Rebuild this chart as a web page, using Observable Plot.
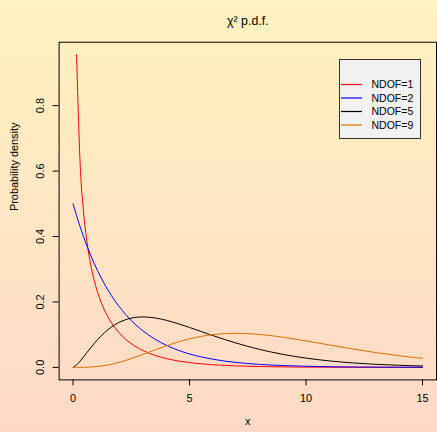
<!DOCTYPE html>
<html>
<head>
<meta charset="utf-8">
<script src="https://cdn.jsdelivr.net/npm/d3@7"></script>
<script src="https://cdn.jsdelivr.net/npm/@observablehq/plot@0.6"></script>
<style>
  html, body { margin: 0; padding: 0; overflow: hidden; }
  #wrap {
    position: relative; width: 437px; height: 432px; overflow: hidden;
    background: linear-gradient(to bottom, #fff3bf 0%, #ffd9c8 100%);
    font-family: "Liberation Sans", Arial, Helvetica, sans-serif;
  }
  #wrap svg.plot { position: absolute; left: 0; top: 0; background: transparent; }
  #legend { position: absolute; left: 0; top: 0; }
</style>
</head>
<body>
<div id="wrap"></div>
<script>
// ---- data ----
const title = "χ² p.d.f.";
const xLabel = "x";
const yLabel = "Probability density";
const xTicks = [0, 5, 10, 15];
const yTicks = [0, 0.2, 0.4, 0.6, 0.8];

const xs = [0, 0.15, 0.3, 0.45, 0.6, 0.75, 0.9, 1.05, 1.2, 1.5, 1.8, 2.1, 2.4, 2.7, 3, 3.5, 4, 4.5, 5, 5.5, 6, 6.5, 7, 7.5, 8, 8.5, 9, 10, 11, 12, 13, 14, 15];

const ndof1 = [null, 0.9556, 0.6269, 0.4749, 0.3815, 0.3166, 0.2681, 0.2303, 0.1999, 0.1539, 0.1209, 0.0963, 0.0776, 0.0629, 0.0514, 0.0371, 0.0270, 0.0198, 0.0146, 0.0109, 0.0081, 0.0061, 0.0046, 0.0034, 0.0026, 0.0020, 0.0015, 0.00085, 0.00049, 0.00029, 0.00017, 0.000097, 0.000057];
const ndof2 = [0.5, 0.4639, 0.4304, 0.3993, 0.3704, 0.3436, 0.3188, 0.2958, 0.2744, 0.2362, 0.2033, 0.1750, 0.1506, 0.1296, 0.1116, 0.0869, 0.0677, 0.0527, 0.0410, 0.0320, 0.0249, 0.0194, 0.0151, 0.0118, 0.0092, 0.0071, 0.0056, 0.0034, 0.0020, 0.0012, 0.0008, 0.0005, 0.0003];
const ndof5 = [0, 0.00717, 0.01881, 0.03206, 0.04579, 0.05936, 0.07240, 0.08464, 0.09594, 0.11540, 0.13057, 0.14161, 0.14892, 0.15295, 0.15418, 0.15131, 0.14398, 0.13380, 0.12204, 0.10965, 0.09730, 0.08545, 0.07437, 0.06424, 0.05511, 0.04701, 0.03989, 0.02833, 0.01983, 0.01370, 0.00937, 0.00635, 0.00427];
const ndof9 = [0, 0.0000046, 0.0000484, 0.000185, 0.000471, 0.000954, 0.001676, 0.002666, 0.003947, 0.007419, 0.012087, 0.017844, 0.024508, 0.031857, 0.039647, 0.052958, 0.065820, 0.077412, 0.087173, 0.094773, 0.10008, 0.10315, 0.10412, 0.10324, 0.10078, 0.09704, 0.09231, 0.08096, 0.06855, 0.05638, 0.04525, 0.03557, 0.02747];

const seriesNames = ["NDOF=1", "NDOF=2", "NDOF=5", "NDOF=9"];
const seriesColors = ["#ff0000", "#0000ff", "#000000", "#dc7000"];
const seriesValues = [ndof1, ndof2, ndof5, ndof9];

// tidy table
const rows = [];
seriesValues.forEach((vals, i) => {
  vals.forEach((v, j) => rows.push({x: xs[j], y: v, s: seriesNames[i]}));
});

const W = 440, H = 432;
const chart = Plot.plot({
  width: W, height: H,
  marginLeft: 59, marginRight: 1, marginTop: 42, marginBottom: 50,
  style: {fontFamily: '"Liberation Sans", Arial, Helvetica, sans-serif', fontSize: "11px", background: "transparent", color: "black"},
  x: {domain: [-0.6, 15.6]},
  y: {domain: [-0.0382, 0.9938]},
  color: {domain: seriesNames, range: seriesColors},
  marks: [
    Plot.frame({stroke: "black"}),
    Plot.line(rows, {x: "x", y: "y", z: "s", stroke: "s", strokeWidth: 1, curve: "monotone-x"}),
    Plot.axisX({ticks: xTicks, tickSize: 6, tickPadding: 8, label: null, fontSize: 11, tickFormat: d3.format("d")}),
    Plot.axisY({ticks: yTicks, tickSize: 6, tickPadding: 9, tickRotate: -90, label: null, fontSize: 11, tickFormat: d3.format(".1f")}),
    Plot.text([title], {frameAnchor: "top", dy: -26, fontSize: 12.5, text: d => d}),
    Plot.text([xLabel], {frameAnchor: "bottom", dy: 45, fontSize: 11, text: d => d}),
    Plot.text([yLabel], {frameAnchor: "left", dx: -45, rotate: -90, fontSize: 11, text: d => d})
  ]
});
chart.classList.add("plot");
document.getElementById("wrap").appendChild(chart);

// legend (R-style box)
const lg = d3.select("#wrap").append("svg").attr("id", "legend").attr("width", 437).attr("height", 432);
const box = {x: 339.5, y: 59.5, w: 81, h: 79};
lg.append("rect").attr("x", box.x).attr("y", box.y).attr("width", box.w).attr("height", box.h)
  .attr("fill", "#f2f2f2").attr("stroke", "#333").attr("stroke-width", 1);
seriesNames.forEach((name, i) => {
  const cy = 84.5 + i * 13.5;
  lg.append("line").attr("x1", 341).attr("x2", 362).attr("y1", cy).attr("y2", cy)
    .attr("stroke", seriesColors[i]).attr("stroke-width", 1.2);
  lg.append("text").attr("x", 371.5).attr("y", cy).attr("dy", "0.35em")
    .attr("font-size", "10.5px").attr("font-family", '"Liberation Sans", Arial, sans-serif')
    .attr("fill", "black").text(name);
});
</script>
</body>
</html>
